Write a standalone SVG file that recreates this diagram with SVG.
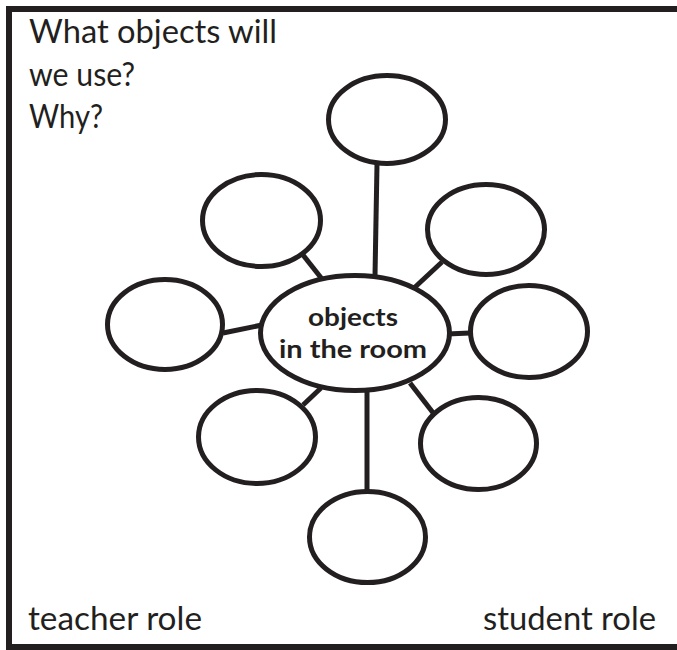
<svg xmlns="http://www.w3.org/2000/svg" width="677" height="650" viewBox="0 0 677 650">
<style>
.n ellipse{fill:#fff;stroke:#231f20;stroke-width:5}
.c line{stroke:#231f20;stroke-width:5}
.t{font-family:Lato,"Liberation Sans",sans-serif;font-size:33px;fill:#231f20}
.b{font-family:Lato,"Liberation Sans",sans-serif;font-size:24px;font-weight:bold;fill:#231f20;text-anchor:middle}
</style>
<rect x="9" y="9" width="690" height="638" fill="#fff" stroke="#231f20" stroke-width="6"/>
<g id="labels">
<text class="t" x="29" y="43" textLength="248" lengthAdjust="spacingAndGlyphs">What objects will</text>
<text class="t" x="29" y="86" textLength="106" lengthAdjust="spacingAndGlyphs">we use?</text>
<text class="t" x="29" y="128" textLength="74" lengthAdjust="spacingAndGlyphs">Why?</text>
<text class="t" x="28" y="630" textLength="174" lengthAdjust="spacingAndGlyphs">teacher role</text>
<text class="t" x="483" y="630" textLength="173" lengthAdjust="spacingAndGlyphs">student role</text>
</g>
<g id="connectors" class="c">
<line x1="377" y1="164" x2="375" y2="276"/>
<line x1="303" y1="255" x2="322" y2="279"/>
<line x1="223" y1="333" x2="262" y2="325"/>
<line x1="442" y1="262" x2="413" y2="289"/>
<line x1="447" y1="334" x2="470" y2="333"/>
<line x1="303" y1="405" x2="321" y2="388"/>
<line x1="367" y1="390" x2="367" y2="491"/>
<line x1="410" y1="383" x2="434" y2="414"/>
</g>
<g id="center" class="n">
<ellipse cx="355" cy="333" rx="94.5" ry="57.5"/>
<text class="b" x="353" y="326" textLength="90" lengthAdjust="spacingAndGlyphs">objects</text>
<text class="b" x="353" y="358" textLength="148" lengthAdjust="spacingAndGlyphs">in the room</text>
</g>
<g id="node-top" class="n"><ellipse cx="387" cy="119.5" rx="58.5" ry="44"/></g>
<g id="node-upper-left" class="n"><ellipse cx="261.5" cy="220.5" rx="59" ry="46"/></g>
<g id="node-left" class="n"><ellipse cx="165" cy="324.5" rx="57.5" ry="45"/></g>
<g id="node-upper-right" class="n"><ellipse cx="486" cy="229.5" rx="58.5" ry="45"/></g>
<g id="node-right" class="n"><ellipse cx="529" cy="331.5" rx="58.5" ry="46"/></g>
<g id="node-lower-left" class="n"><ellipse cx="257" cy="437" rx="58.5" ry="46.5"/></g>
<g id="node-bottom" class="n"><ellipse cx="367.5" cy="537" rx="58" ry="45.5"/></g>
<g id="node-lower-right" class="n"><ellipse cx="478.5" cy="443.5" rx="58" ry="46"/></g>
</svg>
